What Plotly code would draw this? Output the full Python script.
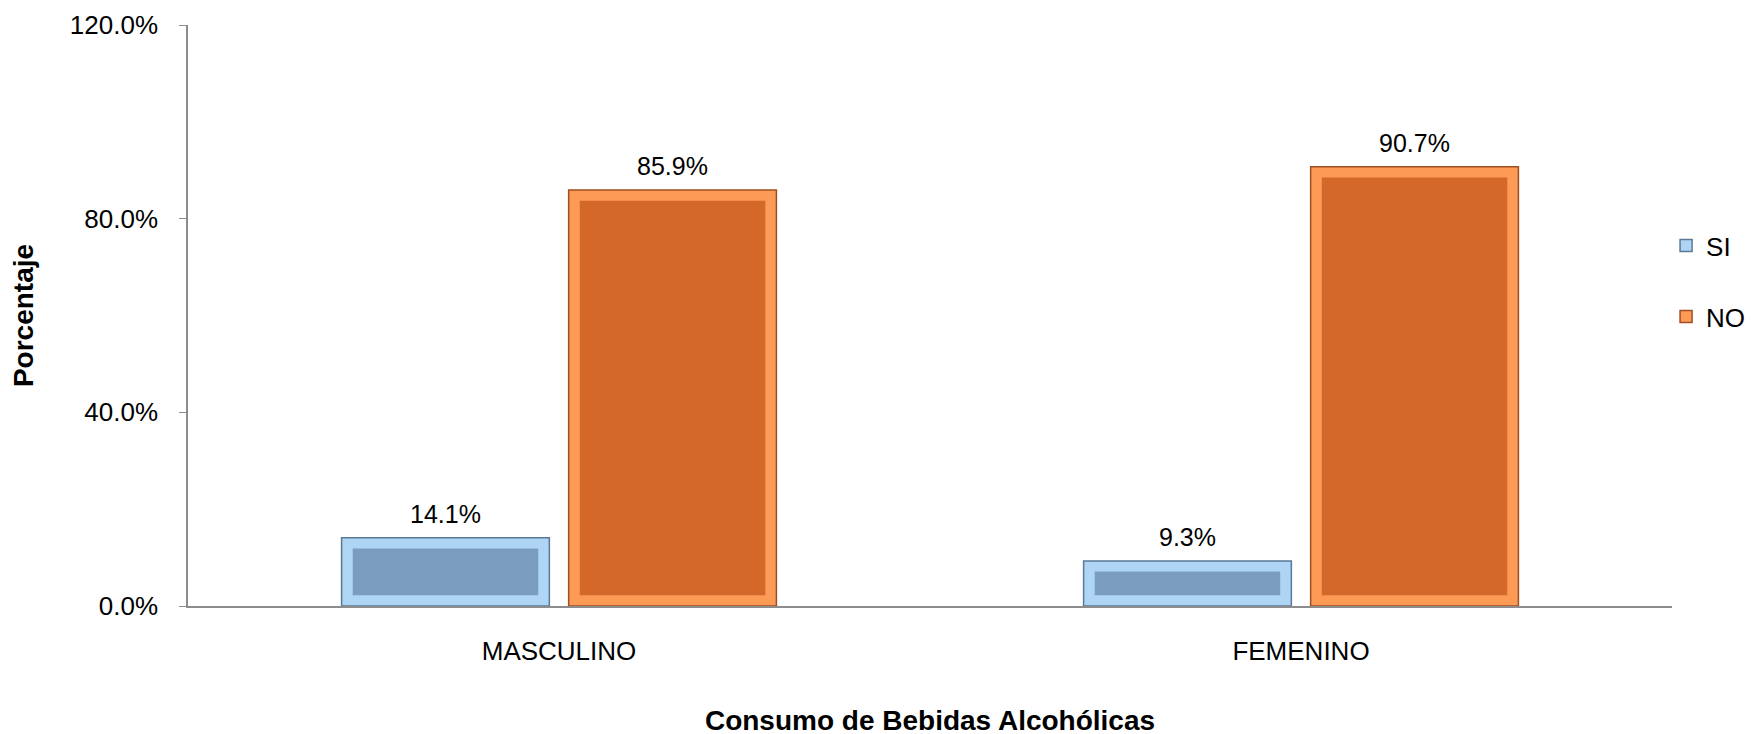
import plotly.graph_objects as go

categories = ["MASCULINO", "FEMENINO"]
si_values = [14.1, 9.3]
no_values = [85.9, 90.7]
series_names = ["SI", "NO"]
y_ticks = [0, 40, 80, 120]
y_tick_labels = ["0.0%", "40.0%", "80.0%", "120.0%"]

FONT = "Liberation Sans, Arial, sans-serif"
bar_w = 0.28
bevel_x = 0.015
bevel_y = 2.2
offsets = {"SI": -0.293, "NO": 0.013}
outer_col = {"SI": "#aed6f4", "NO": "#fd9a55"}
inner_col = {"SI": "#7a9dbf", "NO": "#d4682a"}
edge_col = {"SI": "#5b7896", "NO": "#9e4f22"}

fig = go.Figure()
annotations = []
for name, vals in zip(series_names, [si_values, no_values]):
    fig.add_trace(go.Bar(
        x=categories, y=vals, name=name, legendgroup=name,
        offset=offsets[name], width=bar_w,
        marker=dict(color=outer_col[name], line=dict(color=edge_col[name], width=1.5)),
        cliponaxis=False,
    ))
    fig.add_trace(go.Bar(
        x=categories, y=[v - 2 * bevel_y for v in vals], base=[bevel_y] * len(vals),
        offset=offsets[name] + bevel_x, width=bar_w - 2 * bevel_x,
        marker=dict(color=inner_col[name], line=dict(width=0)),
        showlegend=False, hoverinfo="skip", legendgroup=name,
    ))
    for i, v in enumerate(vals):
        annotations.append(dict(
            x=i + offsets[name] + bar_w / 2, y=v, xref="x", yref="y",
            text=f"{v:.1f}%", showarrow=False, yanchor="bottom", yshift=8,
            font=dict(size=25, color="#000000", family=FONT),
        ))

fig.update_layout(
    width=1756, height=734,
    barmode="overlay",
    plot_bgcolor="white", paper_bgcolor="white",
    margin=dict(l=180, r=92, t=17, b=136, autoexpand=False),
    font=dict(family=FONT, size=26, color="#000000"),
    annotations=annotations,
    legend=dict(x=0.996, y=0.559, xanchor="left", yanchor="middle",
                font=dict(size=26, family=FONT), tracegroupgap=34,
                bgcolor="rgba(0,0,0,0)", itemwidth=30),
    xaxis=dict(
        showline=True, linecolor="#8c8c8c", linewidth=1.5,
        ticks="", showgrid=False, range=[-0.5, 1.5], automargin=False,
        tickfont=dict(size=26, family=FONT), ticklabelstandoff=21,
        title=dict(text="<b>Consumo de Bebidas Alcohólicas</b>", font=dict(size=28, family=FONT), standoff=45),
    ),
    yaxis=dict(
        range=[0, 120], tickvals=y_ticks, ticktext=y_tick_labels,
        showline=True, linecolor="#8c8c8c", linewidth=1.5,
        ticks="outside", ticklen=7, tickcolor="#8c8c8c",
        showgrid=False, zeroline=False, automargin=False,
        tickfont=dict(size=26, family=FONT), ticklabelstandoff=16,
        title=dict(text="<b>Porcentaje</b>", font=dict(size=28, family=FONT), standoff=30),
    ),
)

fig.write_html("out.html")
